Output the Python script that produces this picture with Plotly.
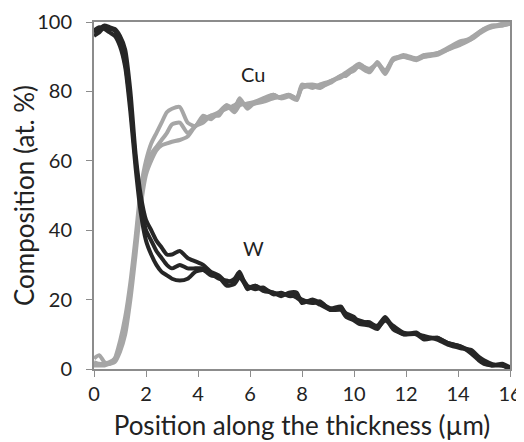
import plotly.graph_objects as go

x_pos = [0, 0.2, 0.4, 0.6, 0.8, 1.0, 1.2, 1.4, 1.6, 1.8, 2.0, 2.2, 2.4, 2.6, 2.8, 3.0, 3.3, 3.6, 3.9,
         4.2, 4.5, 4.8, 5.1, 5.4, 5.6, 5.9, 6.2, 6.5, 6.9, 7.2, 7.5, 7.8, 8.0, 8.4, 8.7, 9.1, 9.5,
         9.7, 10.0, 10.2, 10.6, 10.9, 11.2, 11.5, 11.9, 12.4, 12.7, 13.2, 13.6, 14.1, 14.5, 14.8,
         15.0, 15.3, 15.7, 16.0]

w_1 = [97, 98, 99, 98.5, 98, 96, 92, 80, 62, 50, 43, 40, 37, 35, 33, 33, 34, 32, 31,
       30, 28, 27, 25, 26, 28, 23, 24, 23, 22, 21, 22, 22, 19, 20, 19, 17.5, 18,
       15.5, 14.5, 14, 13, 12.5, 15, 12, 10, 10.5, 9, 9, 7.5, 6.5, 5, 3,
       2, 1, 1.5, 0.5]
w_2 = [96, 97, 98.5, 98, 97.5, 94, 88, 76, 60, 48, 40, 37, 34, 32, 30, 29, 30, 29, 29,
       29, 27.5, 26, 25.5, 25, 27, 24, 23, 23.5, 21.5, 22, 21, 21, 20, 19, 19.5, 17, 17.5,
       16, 15, 13.5, 13.5, 12, 14, 12.5, 10.5, 10, 9.5, 8.5, 7, 6, 5.5, 3.5,
       2.5, 1.5, 1, 0.3]
w_3 = [97.5, 98.5, 98, 97, 96, 93, 87, 74, 58, 45, 37, 33, 30, 28, 27, 26, 25.5, 26, 28,
       28.5, 27, 26.5, 24, 24.5, 26.5, 23.5, 24, 22.5, 22, 21.5, 21.5, 20.5, 19.5, 19.5, 18.5, 17, 17,
       15, 14, 13, 12.5, 11.5, 14.5, 11.5, 10, 10, 8.5, 9, 7.5, 6.5, 4.5, 2.5,
       1.5, 1, 1, 0]

cu_1 = [3, 4, 2, 1.5, 3, 8, 15, 25, 38, 52, 60, 65, 68, 71, 74, 75, 75.5, 71, 70,
        73, 72, 74, 76, 75, 78, 75, 77, 78, 79, 78, 79, 78, 82, 81, 82, 83, 84.5,
        85.5, 87, 88, 86, 88, 85, 89, 90.5, 89.5, 90, 91, 92, 94, 95.5, 97,
        98, 98.5, 99, 99.5]
cu_2 = [2, 1.5, 1.5, 2, 3, 6, 12, 22, 36, 50, 58, 62, 64, 66, 68, 70.5, 71, 68, 70,
        72, 73, 74, 75, 76, 77, 76, 76.5, 77, 78, 78.5, 79, 78, 81, 81.5, 81, 83, 84,
        85, 86, 87.5, 86.5, 88, 86, 89, 90, 89.5, 90.5, 91, 92.5, 94.5, 95, 96.5,
        97.5, 98.5, 99.5, 99.5]
cu_3 = [1, 1, 1, 1.5, 2, 5, 10, 20, 33, 47, 56, 60, 63, 64.5, 65, 65.5, 66, 67, 70,
        71, 73, 73, 76, 74, 76, 76.5, 77, 77.5, 79, 78, 78.5, 77.5, 81.5, 82, 81.5, 82.5, 84.5,
        84.5, 86.5, 87, 85.5, 88.5, 85.5, 89.5, 90, 89, 90, 90.5, 92, 93.5, 95, 97,
        98, 99, 99, 99.5]

x_ticks = [0, 2, 4, 6, 8, 10, 12, 14, 16]
y_ticks = [0, 20, 40, 60, 80, 100]

FONT = "Lato"
W_COLOR = "#262626"
CU_COLOR = "#a6a6a6"

fig = go.Figure()
for ys in (cu_1, cu_2, cu_3):
    fig.add_trace(go.Scatter(x=x_pos, y=ys, mode="lines",
                             line=dict(color=CU_COLOR, width=4, shape="spline", smoothing=0.6),
                             showlegend=False, hoverinfo="skip"))
for ys in (w_1, w_2, w_3):
    fig.add_trace(go.Scatter(x=x_pos, y=ys, mode="lines",
                             line=dict(color=W_COLOR, width=4, shape="spline", smoothing=0.6),
                             showlegend=False, hoverinfo="skip"))

fig.add_annotation(x=6.1, y=85, text="Cu", showarrow=False,
                   font=dict(family=FONT, size=20, color="#222"))
fig.add_annotation(x=6.15, y=35, text="W", showarrow=False,
                   font=dict(family=FONT, size=20, color="#222"))

axis_common = dict(showgrid=False, zeroline=False, showline=True, linecolor="#8c8c8c",
                   linewidth=2, mirror=True, ticks="outside", ticklen=6, tickcolor="#8c8c8c",
                   tickwidth=1, automargin=False, ticklabeloverflow="allow",
                   tickfont=dict(family=FONT, size=20, color="#222"))

fig.update_xaxes(range=[0, 16], tickvals=x_ticks, ticktext=[str(v) for v in x_ticks],
                 title=dict(text="Position along the thickness (µm)",
                            font=dict(family=FONT, size=26, color="#222"), standoff=13),
                 **axis_common)
fig.update_yaxes(range=[0, 100], tickvals=y_ticks,
                 ticktext=[str(v) + "\u2002" for v in y_ticks],
                 title=dict(text="Composition (at. %)",
                            font=dict(family=FONT, size=26, color="#222"), standoff=15),
                 **axis_common)

# the page body adds an 8px offset, so the margins are reduced by that amount
fig.update_layout(width=516, height=442, margin=dict(l=86, r=14, t=14, b=81),
                  paper_bgcolor="white", plot_bgcolor="white")

fig.write_html("out.html")
